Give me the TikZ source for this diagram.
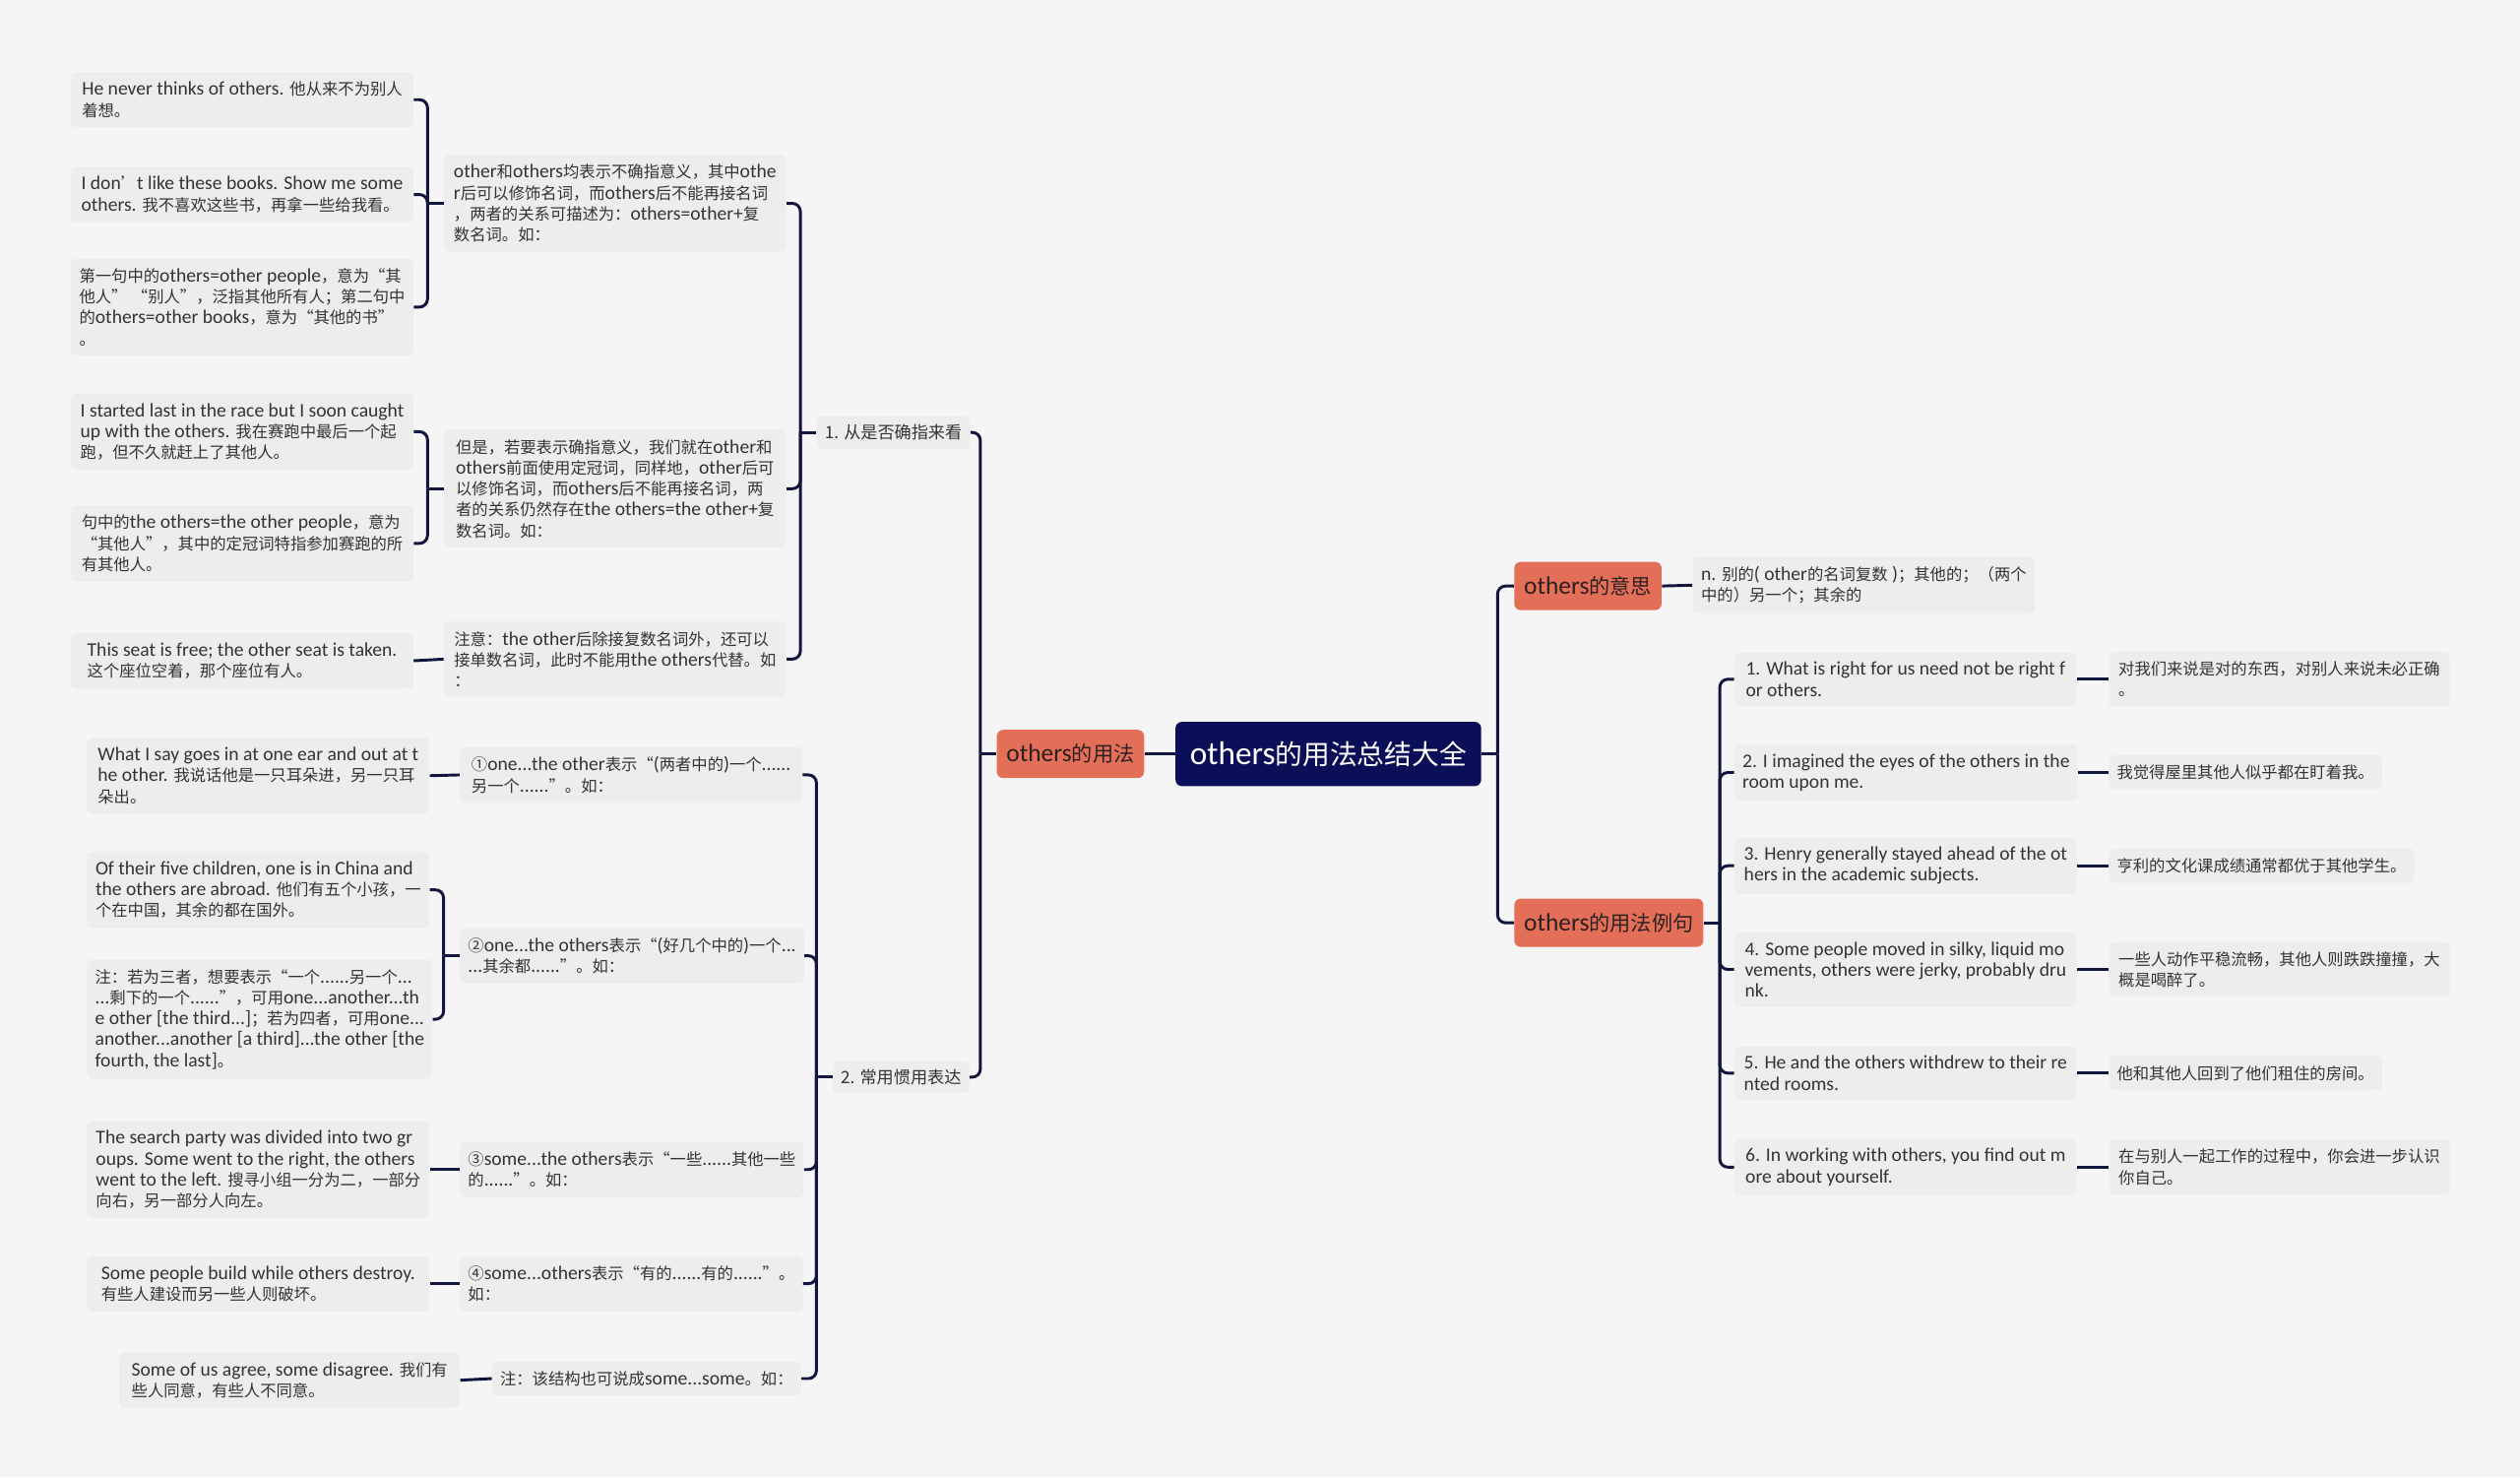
\documentclass[tikz,border=0pt]{standalone}
\usepackage{fontspec}
\setmainfont{Carlito}[Scale=1.2]
\newfontfamily\latfont{Carlito}[Scale=1.2]
\newfontfamily\hanfont{Noto Sans CJK SC}
\usepackage{xcolor}
\usetikzlibrary{positioning}

% Chinese characters switch to the CJK font, the rest stays in Carlito
\newXeTeXintercharclass\hanclass
\newcount\hanc
\def\sethan#1#2{\hanc=#1 \loop\XeTeXcharclass\hanc=\hanclass \ifnum\hanc<#2 \advance\hanc by 1 \repeat}
\sethan{"2E80}{"9FFF}
\sethan{"FF00}{"FFEF}
\sethan{"2018}{"201F}
\sethan{"2460}{"24FF}
\XeTeXinterchartoks 0 \hanclass = {\hanfont}
\XeTeXinterchartoks 4095 \hanclass = {\hanfont}
\XeTeXinterchartoks \hanclass 0 = {\latfont}
\XeTeXinterchartoks \hanclass 4095 = {\latfont}
\XeTeXinterchartokenstate=1

\definecolor{bgcol}{HTML}{F5F5F5}
\definecolor{leafcol}{HTML}{EDEDED}
\definecolor{linkcol}{HTML}{12163F}
\definecolor{topiccol}{HTML}{E46F59}
\definecolor{rootcol}{HTML}{0B0F57}
\definecolor{inkcol}{HTML}{333333}
\definecolor{topicink}{HTML}{2E2020}

\begin{document}
\begin{tikzpicture}[x=1pt, y=-1pt,
    leaf/.style={fill=leafcol, rounded corners=3pt, anchor=west, align=left,
      inner xsep=5pt, inner ysep=6pt, text=inkcol, font=\fontsize{10}{13}\selectfont},
    wide/.style={leaf, minimum width=213pt},
    sublabel/.style={fill=leafcol, rounded corners=3pt, anchor=west, inner xsep=5pt,
      inner ysep=0pt, minimum height=20pt, text=inkcol,
      font={\XeTeXinterchartokenstate=0 \fontsize{10.5}{13}\hanfont}},
    topic/.style={fill=topiccol, rounded corners=4pt, anchor=west, inner xsep=6pt,
      inner ysep=0pt, minimum height=30pt, text=topicink, font=\fontsize{13}{16}\selectfont},
    root/.style={fill=rootcol, rounded corners=4pt, inner xsep=9pt, inner ysep=0pt,
      minimum height=40pt, text=white, font=\fontsize{17}{20}\selectfont},
    link/.style={draw=linkcol, line width=1.8pt}]

    % Fond
    \fill[bgcol] (0,0) rectangle (1568,919);
    \useasboundingbox (0,0) rectangle (1568,919);

    % Noeud central
    \node[root] (C) at (826.5,469) {others的用法总结大全};

    % Branche gauche
    \node[topic] (M1) at (620,469) {others的用法};
    \node[sublabel] (L1) at (508,269) {1. 从是否确指来看};
    \node[sublabel] (L2) at (518,670) {2. 常用惯用表达};

    \node[wide] (P1) at (276,126.5) {other和others均表示不确指意义，其中othe\\r后可以修饰名词，而others后不能再接名词\\，两者的关系可描述为：others=other+复\\数名词。如：};
    \node[wide] (P2) at (276,304) {但是，若要表示确指意义，我们就在other和\\others前面使用定冠词，同样地，other后可\\以修饰名词，而others后不能再接名词，两\\者的关系仍然存在the others=the other+复\\数名词。如：};
    \node[wide] (P3) at (276,410) {注意：the other后除接复数名词外，还可以\\接单数名词，此时不能用the others代替。如\\：};

    \node[wide] (a1) at (44,62) {He never thinks of others. 他从来不为别人\\着想。};
    \node[wide] (a2) at (44,121) {I don’t like these books. Show me some\\ others. 我不喜欢这些书，再拿一些给我看。};
    \node[wide] (a3) at (44,191) {第一句中的others=other people，意为“其\\他人” “别人”，泛指其他所有人；第二句中\\的others=other books，意为“其他的书”\\。};
    \node[wide] (a4) at (44,268.5) {I started last in the race but I soon caught\\ up with the others. 我在赛跑中最后一个起\\跑，但不久就赶上了其他人。};
    \node[wide] (a5) at (44,338) {句中的the others=the other people，意为\\“其他人”，其中的定冠词特指参加赛跑的所\\有其他人。};
    \node[wide] (a6) at (44,411) {This seat is free; the other seat is taken.\\这个座位空着，那个座位有人。};

    \node[wide] (Q1) at (286,482) {①one...the other表示“(两者中的)一个......\\另一个......”。如：};
    \node[wide] (Q2) at (286,594.5) {②one...the others表示“(好几个中的)一个...\\...其余都......”。如：};
    \node[wide] (Q3) at (286,727.5) {③some...the others表示“一些......其他一些\\的......”。如：};
    \node[wide] (Q4) at (286,798.5) {④some...others表示“有的......有的......”。\\如：};
    \node[leaf] (Q5) at (306,857.5) {注：该结构也可说成some...some。如：};

    \node[wide] (b1) at (54,482.5) {What I say goes in at one ear and out at t\\he other. 我说话他是一只耳朵进，另一只耳\\朵出。};
    \node[wide] (b2) at (54,553.5) {Of their five children, one is in China and\\the others are abroad. 他们有五个小孩，一\\个在中国，其余的都在国外。};
    \node[wide] (b3) at (54,634) {注：若为三者，想要表示“一个......另一个...\\...剩下的一个......”，可用one...another...th\\e other [the third...]；若为四者，可用one...\\another...another [a third]...the other [the\\fourth, the last]。};
    \node[wide] (b4) at (54,727.5) {The search party was divided into two gr\\oups. Some went to the right, the others\\went to the left. 搜寻小组一分为二，一部分\\向右，另一部分人向左。};
    \node[wide] (b5) at (54,798.5) {Some people build while others destroy.\\有些人建设而另一些人则破坏。};
    \node[leaf, minimum width=212pt] (b6) at (74,858.5) {Some of us agree, some disagree. 我们有\\些人同意，有些人不同意。};

    % Branche droite
    \node[topic] (R1) at (942,364.5) {others的意思};
    \node[topic] (R2) at (942,574) {others的用法例句};
    \node[wide] (R1c) at (1053,364) {n. 别的( other的名词复数 )；其他的；（两个\\中的）另一个；其余的};

    \node[wide] (E1) at (1079,422.5) {1. What is right for us need not be right f\\or others.};
    \node[wide] (E2) at (1079,480.5) {2. I imagined the eyes of the others in the\\ room upon me.};
    \node[wide] (E3) at (1079,538.5) {3. Henry generally stayed ahead of the ot\\hers in the academic subjects.};
    \node[wide] (E4) at (1079,603) {4. Some people moved in silky, liquid mo\\vements, others were jerky, probably dru\\nk.};
    \node[wide] (E5) at (1079,667.5) {5. He and the others withdrew to their re\\nted rooms.};
    \node[wide] (E6) at (1079,726) {6. In working with others, you find out m\\ore about yourself.};

    \node[leaf, minimum width=212pt] (T1) at (1312,422.5) {对我们来说是对的东西，对别人来说未必正确\\。};
    \node[leaf] (T2) at (1312,480.5) {我觉得屋里其他人似乎都在盯着我。};
    \node[leaf] (T3) at (1312,538.5) {亨利的文化课成绩通常都优于其他学生。};
    \node[leaf, minimum width=212pt] (T4) at (1312,603) {一些人动作平稳流畅，其他人则跌跌撞撞，大\\概是喝醉了。};
    \node[leaf] (T5) at (1312,667.5) {他和其他人回到了他们租住的房间。};
    \node[leaf, minimum width=212pt] (T6) at (1312,726) {在与别人一起工作的过程中，你会进一步认识\\你自己。};

    % Liaisons gauche
    \draw[link] (C.west) -- (M1.east);
    \draw[link] (M1.west) -- ++(-10,0) coordinate (kM1);
    \foreach \c in {L1,L2} \draw[link, rounded corners=5pt] (kM1) |- (\c.east);
    \draw[link] (L1.west) -- ++(-10,0) coordinate (kL1);
    \foreach \c in {P1,P2,P3} \draw[link, rounded corners=5pt] (kL1) |- (\c.east);
    \draw[link] (L2.west) -- ++(-10,0) coordinate (kL2);
    \foreach \c in {Q1,Q2,Q3,Q4,Q5} \draw[link, rounded corners=5pt] (kL2) |- (\c.east);
    \draw[link] (P1.west) -- ++(-10,0) coordinate (kP1);
    \foreach \c in {a1,a2,a3} \draw[link, rounded corners=5pt] (kP1) |- (\c.east);
    \draw[link] (P2.west) -- ++(-10,0) coordinate (kP2);
    \foreach \c in {a4,a5} \draw[link, rounded corners=5pt] (kP2) |- (\c.east);
    \draw[link] (P3.west) -- (a6.east);
    \draw[link] (Q1.west) -- (b1.east);
    \draw[link] (Q2.west) -- ++(-10,0) coordinate (kQ2);
    \foreach \c in {b2,b3} \draw[link, rounded corners=5pt] (kQ2) |- (\c.east);
    \draw[link] (Q3.west) -- (b4.east);
    \draw[link] (Q4.west) -- (b5.east);
    \draw[link] (Q5.west) -- (b6.east);

    % Liaisons droite
    \draw[link] (C.east) -- ++(10,0) coordinate (kC);
    \foreach \c in {R1,R2} \draw[link, rounded corners=5pt] (kC) |- (\c.west);
    \draw[link] (R1.east) -- (R1c.west);
    \draw[link] (R2.east) -- ++(10,0) coordinate (kR2);
    \foreach \c in {E1,E2,E3,E4,E5,E6} \draw[link, rounded corners=5pt] (kR2) |- (\c.west);
    \foreach \i in {1,...,6} \draw[link] (E\i.east) -- (T\i.west);

\end{tikzpicture}
\end{document}
